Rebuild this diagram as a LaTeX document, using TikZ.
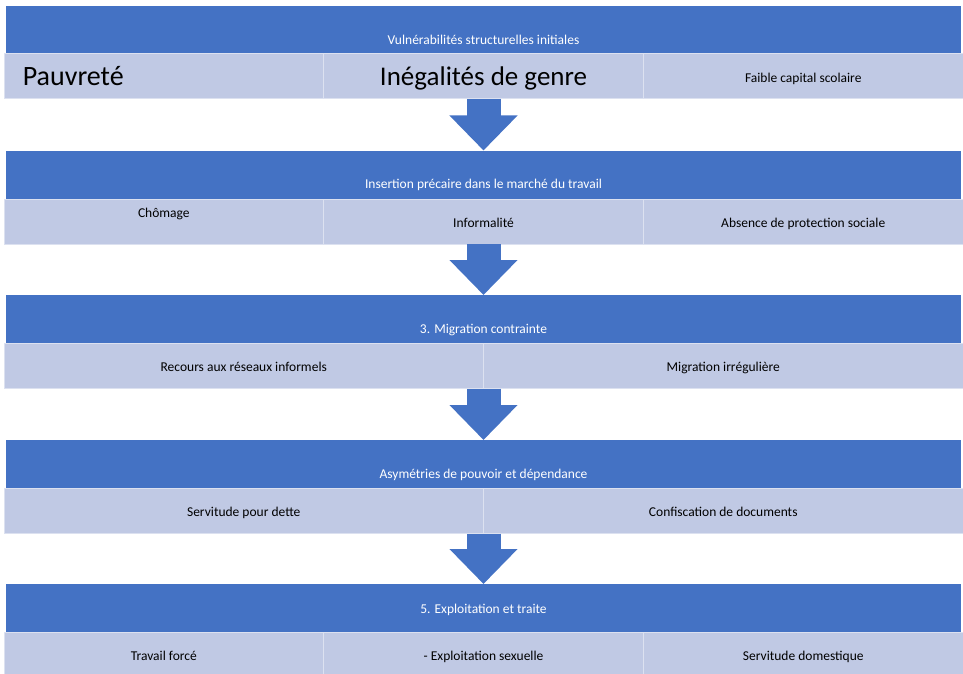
\documentclass[tikz,border=0pt]{standalone}
\usepackage{fontspec}
\setmainfont{Carlito}
\usetikzlibrary{positioning,arrows.meta}
\definecolor{hdrblue}{HTML}{4472C4}
\definecolor{subblue}{HTML}{C0C9E4}

\begin{document}
\begin{tikzpicture}[x=1pt, y=-1pt,
  hdr/.style={fill=hdrblue, text=white, minimum width=955pt, minimum height=48pt,
    inner sep=0pt, anchor=north, text height=15pt, text depth=3.5pt,
    font=\fontsize{13.5}{16}\selectfont},
  lowtext/.style={text height=32pt, text depth=3.5pt},
  sub/.style={fill=subblue, draw=white!45!subblue, line width=1pt, outer sep=0pt,
    minimum height=45pt, inner sep=0pt, anchor=north west, text height=15pt,
    text depth=3.5pt, font=\fontsize{13.5}{16}\selectfont},
  third/.style={sub, minimum width=319.7pt},
  half/.style={sub, minimum width=479.5pt},
  toptext/.style={text height=15pt, text depth=24pt},
  big/.style={text height=20pt, text depth=2pt, font=\fontsize{27}{32}\selectfont},
  flow/.style={hdrblue, line width=34pt, -{Triangle[width=66pt,length=35pt]}}]
    \useasboundingbox (0,0) rectangle (963,674);

    % 1. vulnerabilites
    \node[hdr, lowtext] (h1) at (483.5,6) {Vuln\'erabilit\'es structurelles initiales};
    \node[third, big, text width=282pt, align=left,
      font=\fontsize{28}{32}\selectfont] (s11) at (4,54) {Pauvret\'e};
    \node[third, big] (s12) at (323.7,54) {In\'egalit\'es de genre};
    \node[third] (s13) at (643.4,54) {Faible capital scolaire};

    % 2. insertion precaire
    \node[hdr, lowtext] (h2) at (483.5,150.5) {Insertion pr\'ecaire dans le march\'e du travail};
    \node[third, toptext] (s21) at (4,199) {Ch\^omage};
    \node[third] (s22) at (323.7,199) {Informalit\'e};
    \node[third] (s23) at (643.4,199) {Absence de protection sociale};

    % 3. migration
    \node[hdr, lowtext] (h3) at (483.5,295) {3. Migration contrainte};
    \node[half] (s31) at (4,343.5) {Recours aux r\'eseaux informels};
    \node[half] (s32) at (483.5,343.5) {Migration irr\'eguli\`ere};

    % 4. asymetries
    \node[hdr, lowtext] (h4) at (483.5,440) {Asym\'etries de pouvoir et d\'ependance};
    \node[half] (s41) at (4,488.5) {Servitude pour dette};
    \node[half] (s42) at (483.5,488.5) {Confiscation de documents};

    % 5. exploitation
    \node[hdr] (h5) at (483.5,584) {5. Exploitation et traite};
    \node[third] (s51) at (4,632) {Travail forc\'e};
    \node[third] (s52) at (323.7,632) {- Exploitation sexuelle};
    \node[third] (s53) at (643.4,632) {Servitude domestique};

    % flow between stages
    \draw[flow] (h2.north |- s12.south) -- (h2.north);
    \draw[flow] (h3.north |- s22.south) -- (h3.north);
    \draw[flow] (h4.north |- s31.south) -- (h4.north);
    \draw[flow] (h5.north |- s41.south) -- (h5.north);

\end{tikzpicture}
\end{document}
